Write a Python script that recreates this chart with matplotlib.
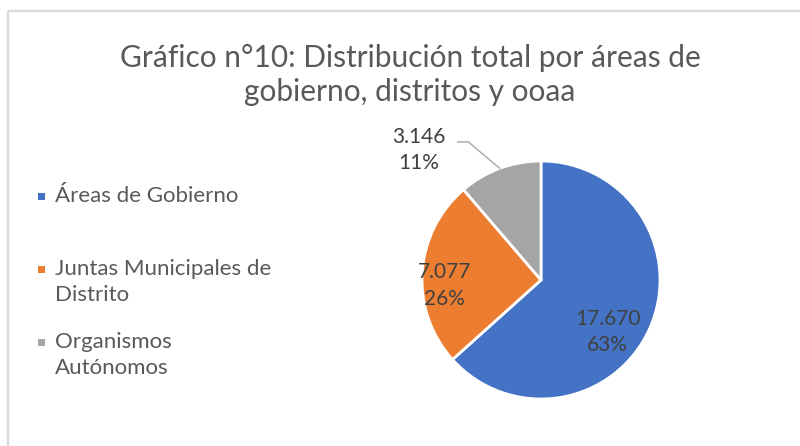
import matplotlib.pyplot as plt
from matplotlib.patches import Rectangle
import numpy as np

plt.rcParams['font.family'] = ['Lato', 'DejaVu Sans']

# data
categories = ['Áreas de Gobierno', 'Juntas Municipales de\nDistrito', 'Organismos\nAutónomos']
values = [17670, 7077, 3146]
value_labels = ['17.670', '7.077', '3.146']
pct_labels = ['63%', '26%', '11%']
colors = ['#4472C4', '#ED7D31', '#A5A5A5']
title = 'Gráfico n°10: Distribución total por áreas de\ngobierno, distritos y ooaa'

W, H = 800, 446
fig = plt.figure(figsize=(W / 100, H / 100), dpi=100)

# background axes in pixel coords (border, title, legend)
bg = fig.add_axes([0, 0, 1, 1])
bg.set_xlim(0, W)
bg.set_ylim(H, 0)
bg.axis('off')
bg.add_patch(Rectangle((8, 11), W + 10, H + 10, fill=False, edgecolor='#d9d9d9', lw=1.6))

bg.text(410, 75, title, ha='center', va='center', fontsize=21.5, color='#595959',
        linespacing=1.28)

leg_y = [196, 269, 342]
for lab, col, y in zip(categories, colors, leg_y):
    bg.add_patch(Rectangle((38, y - 3.5), 7, 7, color=col, lw=0))
    bg.text(55, y - 10, lab, ha='left', va='top', fontsize=16, color='#595959', linespacing=1.4)

# pie
cx, cy, r = 541, 280, 119
ax = fig.add_axes([(cx - r) / W, (H - cy - r) / H, 2 * r / W, 2 * r / H])
wedges, _ = ax.pie(values, colors=colors, startangle=90, counterclock=False,
                   wedgeprops=dict(edgecolor='white', linewidth=2))
ax.set_xlim(-1, 1)
ax.set_ylim(-1, 1)

# label placement: radius and angle shift from wedge middle
lab_r = [0.71, 0.81, 1.5]
lab_shift = [-14, 7, 23]
for w, v, p, rr, sh in zip(wedges, value_labels, pct_labels, lab_r, lab_shift):
    mid = (w.theta1 + w.theta2) / 2
    a = np.deg2rad(mid + sh)
    ax.text(rr * np.cos(a), rr * np.sin(a), v + '\n' + p, ha='center', va='center',
            fontsize=15, color='#404040', linespacing=1.4, clip_on=False)

# leader line for the small slice
g = wedges[2]
gm = np.deg2rad((g.theta1 + g.theta2) / 2)
ex, ey = np.cos(gm), np.sin(gm)
ax.plot([ex, -0.61, -0.70], [ey, 1.16, 1.16], color='#a6a6a6', lw=1, clip_on=False)

fig.savefig('out.png', dpi=100)
